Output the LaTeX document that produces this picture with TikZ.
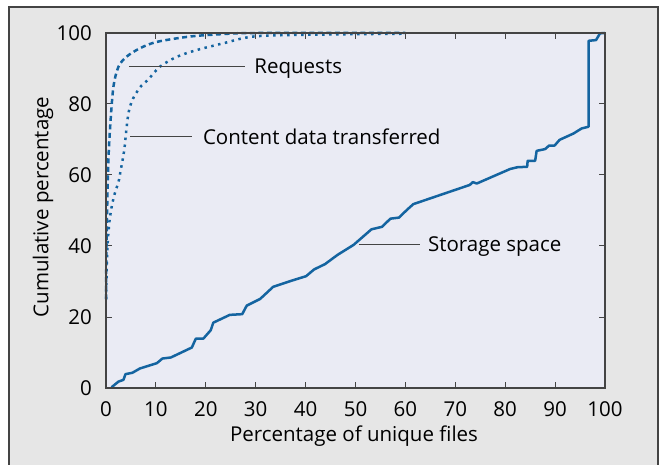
\documentclass[tikz,border=0pt]{standalone}
\usepackage{fontspec}
\setmainfont{Open Sans}
\usetikzlibrary{positioning,calc}
\definecolor{curveblue}{RGB}{20,100,160}
\definecolor{panelgray}{RGB}{230,230,230}
\definecolor{plotbg}{RGB}{234,235,244}
\definecolor{framegray}{RGB}{68,68,68}

\begin{document}
\begin{tikzpicture}[x=1pt,y=1pt,font=\fontsize{20.5}{23}\selectfont]
  \useasboundingbox (0,0) rectangle (661,464);
  \tikzstyle{Curve}=[curveblue,line width=2.5pt,line join=round]
  \tikzstyle{Leader}=[framegray,line width=0.9pt]
  \tikzstyle{CurveLabel}=[anchor=west,inner xsep=9pt,inner ysep=0pt,text depth=0pt]
  \fill[white] (0,0) rectangle (661,464);
  \draw[framegray,line width=1.2pt,fill=panelgray] (9,-5) rectangle (658,457);
  \begin{scope}[shift={(106,76)},x=4.99pt,y=3.55pt]
    \fill[plotbg] (0,0) rectangle (100,100);
    % ticks on all four sides
    \foreach \x in {10,20,...,90} {
      \draw[framegray,line width=1pt] (\x,0) -- ++(0,6pt);
      \draw[framegray,line width=1pt] (\x,100) -- ++(0,-6pt);
    }
    \foreach \y in {20,40,...,80} {
      \draw[framegray,line width=1pt] (0,\y) -- ++(6pt,0);
      \draw[framegray,line width=1pt] (100,\y) -- ++(-6pt,0);
    }
    \foreach \x in {0,10,...,100}
      \node (xl\x) at (\x,-5.9) {\x};
    \foreach \y in {0,20,...,100}
      \node[anchor=east,inner xsep=0pt] (yl\y) at (-2.8,\y) {\y};
    \node (xtitle) at (49.7,-13.5) {Percentage of unique files};
    \node[rotate=90] (ytitle) at (-12.6,51) {Cumulative percentage};
    % requests
    \draw[Curve,dash pattern=on 5pt off 3.5pt] plot[smooth,tension=0.5] coordinates {
      (0,25) (0.1,40) (0.3,55) (0.5,65) (0.9,75) (1.5,85) (2.5,90.5) (4.1,93.3)
      (6.8,95.7) (10.2,97.5) (16.8,99) (23.5,99.7) (30,100) (60,100)};
    % content data transferred
    \draw[Curve,dash pattern=on 2.5pt off 4.5pt] plot[smooth,tension=0.5] coordinates {
      (0,25) (0.1,31) (0.3,40) (0.7,47) (1.2,51.5) (1.8,55) (2.5,58) (2.9,61)
      (3.3,64) (3.7,67.5) (4.1,73) (4.5,77.4) (5.1,80.5) (5.8,82.5) (7,85)
      (8.4,86.8) (10.8,90.5) (14.2,93.3) (18.2,95.2) (23.5,97.1) (29.5,99)
      (40,99.5) (60,99.8)};
    % storage space
    \draw[Curve] (1.1,0.2) -- (2.5,1.8) -- (3.5,2.3) -- (3.9,3.9) -- (5.3,4.3)
      -- (6.8,5.5) -- (10.2,7.0) -- (11.3,8.3) -- (13.0,8.6) -- (17.2,11.4)
      -- (18.0,13.9) -- (19.5,13.9) -- (21.0,16.3) -- (21.5,18.4) -- (24.8,20.6)
      -- (27.3,20.8) -- (28.2,23.2) -- (30.9,25.1) -- (33.5,28.5) -- (36.9,30.1)
      -- (40.1,31.5) -- (41.7,33.4) -- (43.9,34.9) -- (46.4,37.5) -- (49.6,40.3)
      -- (53.2,44.7) -- (55.3,45.4) -- (57.0,47.7) -- (58.7,48.0) -- (60.4,50.3)
      -- (61.6,51.8) -- (72.9,57.2) -- (73.5,58.0) -- (74.3,57.6) -- (81.0,61.7)
      -- (82.5,62.2) -- (84.4,62.3) -- (84.5,64.0) -- (86.0,64.0) -- (86.3,66.8)
      -- (88.0,67.3) -- (88.8,68.3) -- (89.9,68.3) -- (90.9,69.9) -- (93.7,71.7)
      -- (95.3,73.1) -- (96.7,73.6) -- (96.7,97.8) -- (98.2,98.0) -- (99.0,99.9)
      -- (100,100);
    \draw[framegray,line width=1.4pt] (0,0) rectangle (100,100);
    % curve labels
    \coordinate (reqend) at (4.6,90.7);
    \coordinate (contend) at (4.9,70.8);
    \coordinate (storend) at (50.7,40.5);
    \node[CurveLabel] (req) at (27.9,90.7) {Requests};
    \node[CurveLabel,inner xsep=10.5pt] (cont) at (17.3,70.8) {Content data transferred};
    \node[CurveLabel,inner xsep=8pt] (stor) at (62.9,40.5) {Storage space};
    \draw[Leader] (reqend) -- (req.west);
    \draw[Leader] (contend) -- (cont.west);
    \draw[Leader] (storend) -- (stor.west);
  \end{scope}
\end{tikzpicture}
\end{document}
